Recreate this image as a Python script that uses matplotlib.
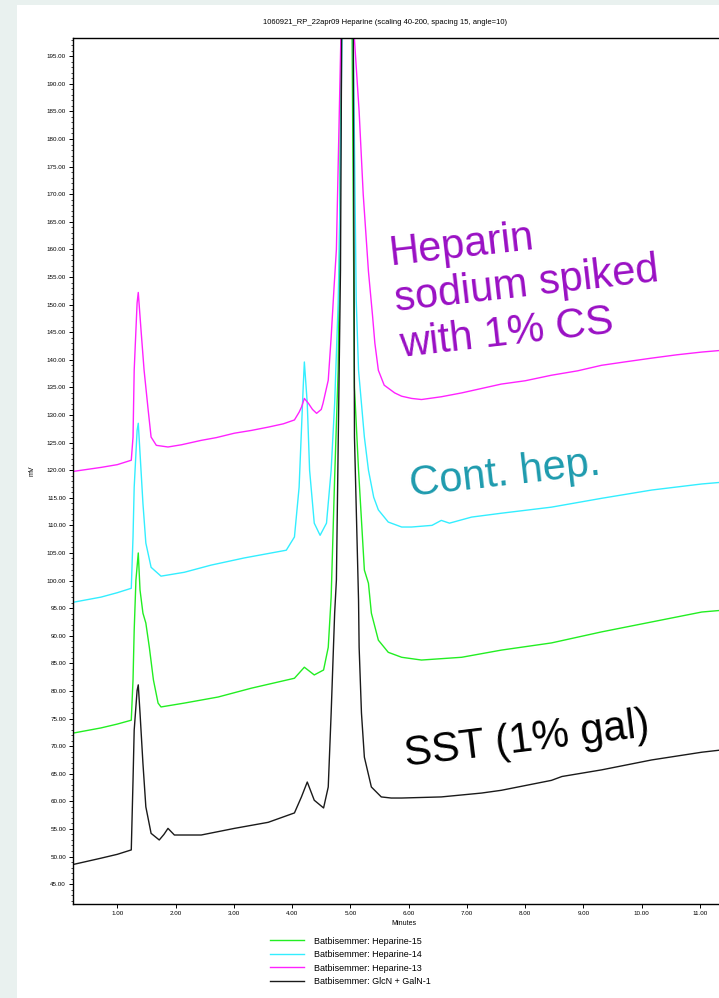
import matplotlib
matplotlib.use('Agg')
import matplotlib.pyplot as plt
from matplotlib.patches import Rectangle
from matplotlib.ticker import MultipleLocator, FormatStrFormatter

plt.rcParams['font.family'] = ['Liberation Sans', 'DejaVu Sans']

# retention time (min) / signal (mV)
hep15_t = [0.26, 0.72, 1.00, 1.24, 1.27, 1.29, 1.32, 1.36, 1.39, 1.44, 1.49, 1.55, 1.62, 1.70, 1.75,
           2.15, 2.73, 3.30, 4.04, 4.21, 4.38, 4.54, 4.62, 4.67, 4.73, 4.79, 4.81, 4.84, 4.93, 5.03,
           5.07, 5.14, 5.24, 5.31, 5.36, 5.48, 5.65, 5.88, 6.22, 6.91, 7.59, 8.45, 9.31, 10.17, 11.03,
           11.36, 11.6]
hep15_mv = [72.4, 73.3, 74.0, 74.7, 82.0, 91.0, 100.1, 105.0, 98.3, 94.1, 92.3, 87.9, 82.0, 77.8, 77.1,
            77.8, 78.9, 80.5, 82.3, 84.3, 82.9, 83.8, 87.9, 97.0, 118.7, 138.1, 156.2, 198.0, 260.0, 198.0,
            135.0, 120.0, 101.9, 99.5, 94.1, 89.2, 87.0, 86.1, 85.6, 86.1, 87.4, 88.7, 90.7, 92.5, 94.3,
            94.6, 95.0]

hep14_t = [0.26, 0.72, 1.00, 1.24, 1.27, 1.29, 1.34, 1.36, 1.39, 1.44, 1.49, 1.58, 1.75, 2.15, 2.61,
           3.18, 3.90, 4.04, 4.12, 4.19, 4.21, 4.26, 4.30, 4.38, 4.48, 4.59, 4.67, 4.73, 4.79, 4.81,
           4.93, 5.05, 5.10, 5.14, 5.24, 5.31, 5.40, 5.48, 5.65, 5.88, 6.05, 6.40, 6.56, 6.70, 7.08,
           7.59, 8.45, 9.31, 10.17, 11.03, 11.36, 11.6]
hep14_mv = [96.1, 97.0, 97.8, 98.6, 107.9, 116.9, 127.2, 128.5, 123.1, 114.0, 106.8, 102.4, 100.8, 101.5, 102.8,
            104.1, 105.5, 107.9, 116.9, 135.0, 139.6, 132.1, 120.0, 110.4, 108.2, 110.4, 120.0, 132.1, 150.3, 160.0,
            260.0, 198.0, 150.8, 138.1, 126.0, 120.0, 115.1, 112.8, 110.6, 109.7, 109.7, 110.0, 110.9, 110.4, 111.5,
            112.2, 113.3, 114.9, 116.4, 117.5, 117.8, 118.2]

hep13_t = [0.26, 0.72, 1.00, 1.24, 1.27, 1.29, 1.34, 1.36, 1.41, 1.46, 1.53, 1.58, 1.67, 1.87, 2.10,
           2.44, 2.70, 3.01, 3.30, 3.59, 3.85, 4.04, 4.12, 4.16, 4.21, 4.28, 4.35, 4.42, 4.50, 4.53,
           4.62, 4.67, 4.72, 4.76, 4.84, 4.92, 5.07, 5.15, 5.22, 5.31, 5.38, 5.42, 5.48, 5.58, 5.76,
           5.88, 6.05, 6.22, 6.56, 6.91, 7.25, 7.59, 8.00, 8.45, 8.90, 9.31, 9.70, 10.17, 10.60, 11.03,
           11.36, 11.6]
hep13_mv = [119.8, 120.5, 121.0, 121.8, 126.0, 138.1, 150.3, 152.2, 145.0, 138.1, 130.9, 126.0, 124.5, 124.2, 124.6,
            125.4, 125.9, 126.7, 127.2, 127.8, 128.4, 129.1, 130.5, 131.4, 133.0, 132.1, 131.0, 130.3, 131.0, 132.1,
            136.3, 144.1, 153.2, 160.0, 200.0, 260.0, 198.0, 185.0, 170.0, 156.0, 148.0, 143.0, 138.1, 135.4, 134.0,
            133.4, 133.0, 132.8, 133.3, 134.0, 134.8, 135.6, 136.2, 137.2, 138.0, 139.0, 139.6, 140.3, 140.9, 141.4,
            141.7, 142.0]

sst_t = [0.26, 0.72, 1.00, 1.24, 1.27, 1.29, 1.34, 1.36, 1.39, 1.44, 1.49, 1.58, 1.72, 1.80, 1.87,
         1.98, 2.44, 3.01, 3.59, 4.04, 4.16, 4.26, 4.38, 4.54, 4.62, 4.67, 4.73, 4.76, 4.83, 4.85,
         4.95, 5.05, 5.07, 5.14, 5.15, 5.19, 5.24, 5.36, 5.53, 5.70, 5.88, 6.56, 7.25, 7.59, 8.45,
         8.63, 9.31, 10.17, 11.03, 11.36, 11.6]
sst_mv = [48.6, 49.7, 50.4, 51.2, 63.8, 72.9, 80.1, 81.1, 76.0, 66.9, 59.0, 54.2, 53.0, 54.0, 55.1,
          53.9, 53.9, 55.1, 56.2, 57.9, 60.8, 63.5, 60.2, 58.8, 62.6, 76.0, 94.1, 100.1, 156.2, 198.0,
          260.0, 198.0, 126.0, 96.4, 87.9, 76.0, 68.0, 62.6, 60.8, 60.6, 60.6, 60.8, 61.5, 62.0, 63.8,
          64.5, 65.7, 67.5, 68.9, 69.3, 69.7]

series = [
    (hep15_t, hep15_mv, '#22ee22', 'Batbisemmer: Heparine-15'),
    (hep14_t, hep14_mv, '#33eeff', 'Batbisemmer: Heparine-14'),
    (hep13_t, hep13_mv, '#ff22ff', 'Batbisemmer: Heparine-13'),
    (sst_t, sst_mv, '#1a1a1a', 'Batbisemmer: GlcN + GalN-1'),
]

fig = plt.figure(figsize=(7.19, 9.98), dpi=100, facecolor='#e9f1ef')
fig.patches.append(Rectangle((17 / 719, 0), 1, 1 - 5 / 998, transform=fig.transFigure,
                             facecolor='white', edgecolor='none', zorder=-5))

ax = fig.add_axes([73 / 719, 1 - 904 / 998, 662 / 719, 866 / 998])
ax.set_zorder(2)
ax.set_facecolor('white')

lines = []
for t, mv, col, lab in series:
    ln, = ax.plot(t, mv, color=col, lw=1.0, label=lab)
    lines.append(ln)

ax.set_xlim(0.24, 11.6)
ax.set_ylim(41.4, 198.3)
ax.xaxis.set_major_locator(MultipleLocator(1))
ax.xaxis.set_major_formatter(FormatStrFormatter('%.2f'))
ax.yaxis.set_major_locator(MultipleLocator(5))
ax.yaxis.set_minor_locator(MultipleLocator(1))
ax.yaxis.set_major_formatter(FormatStrFormatter('%.2f'))
ax.tick_params(axis='both', which='major', labelsize=4.5, length=3, width=0.7, pad=2)
ax.tick_params(axis='y', which='minor', length=1.6, width=0.5)
for s in ax.spines.values():
    s.set_linewidth(1.0)

ax.set_xlabel('Minutes', fontsize=5, labelpad=3)
ax.set_ylabel('mV', fontsize=5, labelpad=8)

fig.text(385 / 719, 1 - 22 / 998, '1060921_RP_22apr09 Heparine (scaling 40-200, spacing 15, angle=10)',
         ha='center', va='center', fontsize=5.5)

# annotations
fig.text(395 / 719, 1 - 300 / 998, 'Heparin\nsodium spiked\nwith 1% CS', color='#9a10c4',
         fontsize=30, rotation=6.5, rotation_mode='anchor', ha='left', va='center',
         linespacing=1.2, zorder=3)
fig.text(410 / 719, 1 - 485 / 998, 'Cont. hep.', color='#1e9bae', fontsize=30,
         rotation=6.5, rotation_mode='anchor', ha='left', va='center', zorder=3)
fig.text(405 / 719, 1 - 755 / 998, 'SST (1% gal)', color='black', fontsize=30,
         rotation=7, rotation_mode='anchor', ha='left', va='center', zorder=3)

fig.legend(handles=lines, loc='upper left', bbox_to_anchor=(265 / 719, 1 - 932 / 998),
           frameon=False, fontsize=6.5, handlelength=3.8, labelspacing=0.5,
           handletextpad=1.1, borderpad=0)

fig.savefig('out.png', dpi=100, facecolor=fig.get_facecolor())
